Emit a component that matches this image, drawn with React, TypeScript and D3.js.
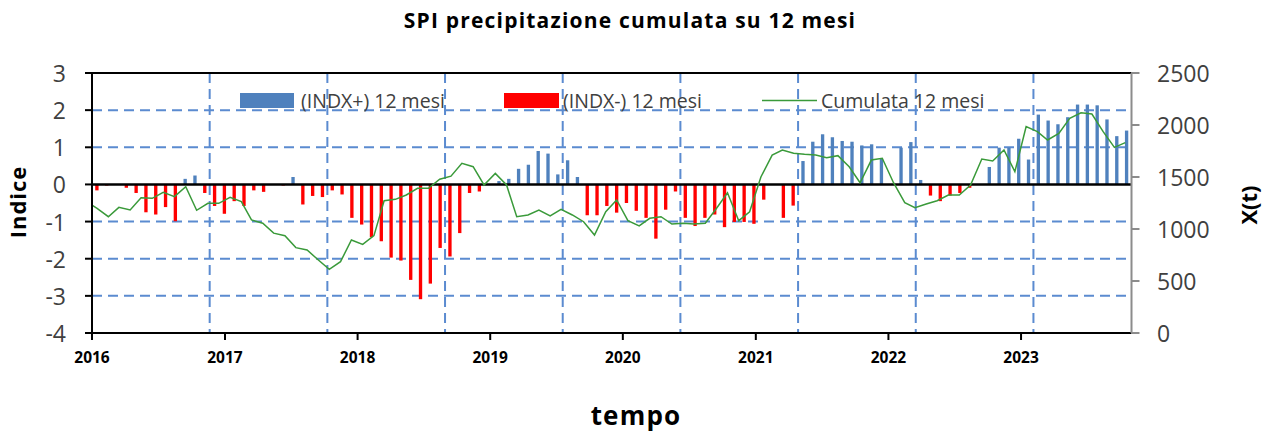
import React from "react";
import * as d3 from "d3";

// SPI 12 mesi, one value per bar (category axis)
const spi12 = [
  -0.16, -0.03, 0, -0.09, -0.23, -0.75, -0.81, -0.61, -0.99, 0.15, 0.24, -0.23,
  -0.58, -0.79, -0.45, -0.58, -0.16, -0.2, 0, -0.03, 0.2, -0.54, -0.31, -0.34,
  -0.16, -0.27, -0.9, -1.08, -1.42, -1.53, -1.97, -2.05, -2.57, -3.09, -2.67, -1.71,
  -1.94, -1.31, -0.23, -0.19, 0, 0.09, 0.15, 0.42, 0.53, 0.9, 0.83, 0.27,
  0.65, 0.2, -0.83, -0.83, -0.58, -0.76, -0.5, -0.71, -0.9, -1.46, -0.68, -0.19,
  -0.9, -1.12, -0.9, -0.81, -1.15, -1.01, -1.01, -1.06, -0.41, 0, -0.9, -0.57,
  0.63, 1.15, 1.35, 1.27, 1.17, 1.15, 1.05, 1.08, 0.69, 0, 0.99, 1.14,
  0.12, -0.3, -0.45, -0.3, -0.23, -0.09, 0, 0.47, 0.99, 0.99, 1.23, 0.67,
  1.88, 1.72, 1.62, 1.81, 2.15, 2.15, 2.13, 1.75, 1.3, 1.45,
];

// cumulata 12 mesi (mm), monthly from Dec 2015
const cumulataStart = new Date(Date.UTC(2015, 11, 15));
const cumulata = [
  1266, 1198, 1118, 1208, 1183, 1301, 1295, 1353, 1311, 1407, 1180, 1247, 1247,
  1305, 1263, 1087, 1055, 960, 936, 821, 798, 702, 612, 686, 894,
  852, 936, 1272, 1285, 1327, 1391, 1391, 1478, 1508, 1632, 1599, 1423,
  1535, 1423, 1118, 1135, 1183, 1125, 1189, 1135, 1070, 942, 1166, 1279,
  1080, 1030, 1103, 1118, 1048, 1055, 1048, 1055, 1199, 1349, 1080, 1166,
  1500, 1711, 1760, 1728, 1718, 1711, 1686, 1705, 1599, 1445, 1663, 1680,
  1445, 1253, 1205, 1240, 1272, 1327, 1327, 1423, 1673, 1654, 1760, 1551,
  1984, 1936, 1856, 1920, 2064, 2118, 2106, 1936, 1785, 1830,
];

const leftTicks = [3, 2, 1, 0, -1, -2, -3, -4];
const rightTicks = [0, 500, 1000, 1500, 2000, 2500];
const gridEvery = 12;

const W = 1271;
const H = 437;
const L = 92;
const R = 1131.5;
const T = 73;
const B = 333;
const FONT = "'Open Sans', Lato, sans-serif";
const BLUE = "#4f81bd";
const GRID = "#5b8bd0";
const GREEN = "#3a9a3a";

export default function App() {
  const yL = d3.scaleLinear().domain([-4, 3]).range([B, T]);
  const yR = d3.scaleLinear().domain([0, 2500]).range([B, T]);
  const xB = d3
    .scaleBand<number>()
    .domain(d3.range(spi12.length))
    .range([L, R])
    .paddingInner(0.66)
    .paddingOuter(0.33);
  const step = xB.step();
  const xT = d3
    .scaleUtc()
    .domain([new Date(Date.UTC(2016, 0, 1)), new Date(Date.UTC(2023, 10, 1))])
    .range([L, R]);

  const pts = cumulata.map((v, k) => ({ d: d3.utcMonth.offset(cumulataStart, k), v }));
  const line = d3
    .line<{ d: Date; v: number }>()
    .x((p) => xT(p.d))
    .y((p) => yR(p.v));

  const vGrid = xB.domain().filter((i) => i > 0 && i % gridEvery === 0);
  const years = d3.utcYear.range(new Date(Date.UTC(2016, 0, 1)), new Date(Date.UTC(2024, 0, 1)));

  return (
    <svg width={W} height={H} style={{ position: "absolute", left: 0, top: 0 }} fontFamily={FONT}>
      <rect width={W} height={H} fill="#fff" />
      <defs>
        <clipPath id="plot">
          <rect x={L} y={T} width={R - L} height={B - T} />
        </clipPath>
      </defs>

      <text x={630} y={28} textAnchor="middle" fontSize={21} fontWeight="bold" letterSpacing={1.2} fill="#000">
        SPI precipitazione cumulata su 12 mesi
      </text>

      {/* gridlines */}
      {leftTicks
        .filter((t) => t !== 0 && t !== 3 && t !== -4)
        .map((t) => (
          <line key={"h" + t} x1={L} x2={R} y1={yL(t)} y2={yL(t)} stroke={GRID} strokeWidth={2} strokeDasharray="10 6" />
        ))}
      {vGrid.map((i) => (
        <line
          key={"v" + i}
          x1={xB(i)! - (step * 0.66) / 2}
          x2={xB(i)! - (step * 0.66) / 2}
          y1={T}
          y2={B}
          stroke={GRID}
          strokeWidth={2}
          strokeDasharray="10 6"
        />
      ))}

      {/* bars */}
      {spi12.map((v, i) =>
        v === 0 ? null : (
          <rect
            key={"b" + i}
            x={xB(i)}
            width={xB.bandwidth()}
            y={v > 0 ? yL(v) : yL(0)}
            height={Math.abs(yL(v) - yL(0))}
            fill={v > 0 ? BLUE : "#ff0000"}
          />
        )
      )}

      {/* zero line */}
      <line x1={L} x2={R} y1={yL(0)} y2={yL(0)} stroke="#000" strokeWidth={2.5} />

      <path d={line(pts)!} fill="none" stroke={GREEN} strokeWidth={1.5} clipPath="url(#plot)" />

      {/* frame */}
      <line x1={L} x2={R} y1={T} y2={T} stroke="#000" strokeWidth={2} />
      <line x1={L} x2={R} y1={B} y2={B} stroke="#000" strokeWidth={2} />
      <line x1={L} x2={L} y1={T} y2={B} stroke="#000" strokeWidth={2} />
      <line x1={R} x2={R} y1={T} y2={B} stroke="#8c8c8c" strokeWidth={2} />

      {/* left axis */}
      {leftTicks.map((t) => (
        <g key={"lt" + t}>
          <line x1={L - 7} x2={L} y1={yL(t)} y2={yL(t)} stroke="#000" strokeWidth={2} />
          <text x={66} y={yL(t) + 9} textAnchor="end" fontSize={23} fill="#404040">
            {t}
          </text>
        </g>
      ))}
      <text
        transform="translate(26,202) rotate(-90)"
        textAnchor="middle"
        fontSize={22}
        fontWeight="bold"
        letterSpacing={1}
        fill="#000"
      >
        Indice
      </text>

      {/* right axis */}
      {rightTicks.map((t) => (
        <g key={"rt" + t}>
          <line x1={R} x2={R + 8} y1={yR(t)} y2={yR(t)} stroke="#8c8c8c" strokeWidth={2} />
          <text x={1157} y={yR(t) + 9} fontSize={23} fill="#404040">
            {t}
          </text>
        </g>
      ))}
      <text
        transform="translate(1257,205) rotate(-90)"
        textAnchor="middle"
        fontSize={22}
        fontWeight="bold"
        fill="#000"
      >
        X(t)
      </text>

      {/* time axis */}
      {years.map((d) => (
        <g key={"y" + d.getUTCFullYear()}>
          <line x1={xT(d)} x2={xT(d)} y1={B} y2={B + 7} stroke="#000" strokeWidth={2} />
          <text x={xT(d)} y={363} textAnchor="middle" fontSize={15.5} fontWeight="bold" fill="#000">
            {d3.utcFormat("%Y")(d)}
          </text>
        </g>
      ))}
      <text x={636} y={425} textAnchor="middle" fontSize={26} fontWeight="bold" letterSpacing={1.2} fill="#000">
        tempo
      </text>

      {/* legend */}
      <rect x={240} y={93} width={54} height={15} fill={BLUE} />
      <text x={301} y={108} fontSize={19.5} fill="#404040">(INDX+) 12 mesi</text>
      <rect x={504} y={93} width={55} height={15} fill="#ff0000" />
      <text x={563} y={108} fontSize={19.5} fill="#404040">(INDX-) 12 mesi</text>
      <line x1={762} x2={817} y1={100.5} y2={100.5} stroke={GREEN} strokeWidth={1.5} />
      <text x={821} y={108} fontSize={19.5} fill="#404040">Cumulata 12 mesi</text>
    </svg>
  );
}
